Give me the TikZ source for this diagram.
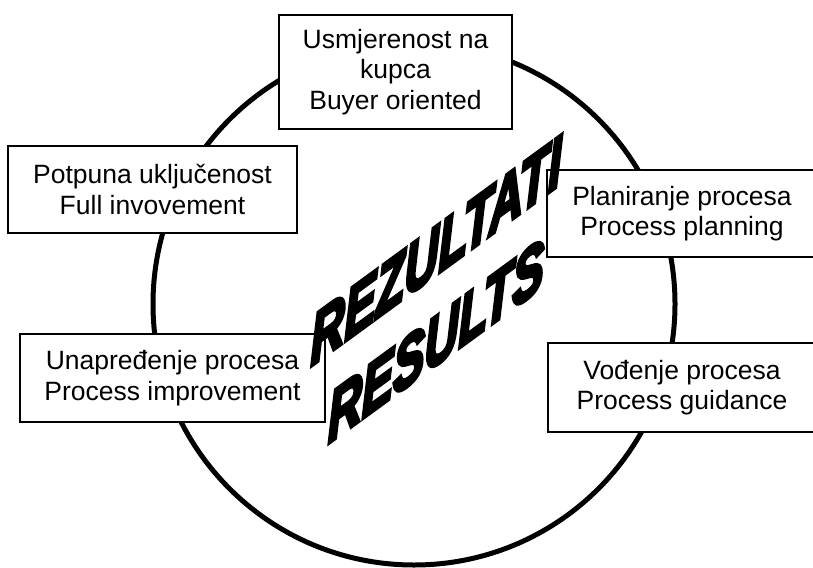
\documentclass[tikz,border=0pt]{standalone}
\usepackage{fontspec}
\setmainfont{Liberation Sans}
\newfontfamily\heavyfont[FakeBold=6]{Liberation Sans Bold Italic}
\begin{document}
\begin{tikzpicture}[x=1pt,y=-1pt,
  box/.style={draw,line width=1.5pt,fill=white,align=center,inner sep=0pt,
    font=\fontsize{26.5}{30.5}\selectfont},
  bigword/.style={align=center,inner sep=0pt,transform shape,
    font=\heavyfont\fontsize{47}{60}\selectfont}]
  \useasboundingbox (0,0) rectangle (813,567);

  % ring behind the boxes
  \draw[line width=5pt] (414,304) circle (261);

  \node[box,minimum width=233,minimum height=114] (kupac) at (395.5,72)
    {Usmjerenost na\\kupca\\Buyer oriented};
  \node[box,minimum width=289,minimum height=87] (ukljuc) at (152.5,189.5)
    {Potpuna uključenost\\Full invovement};
  \node[box,minimum width=270,minimum height=87] (plan) at (682,213.5)
    {Planiranje procesa\\Process planning};
  \node[box,minimum width=305,minimum height=88] (unapr) at (172.5,378)
    {Unapređenje procesa\\Process improvement};
  \node[box,minimum width=268,minimum height=89] (vodj) at (682,387.5)
    {Vođenje procesa\\Process guidance};

  % slanted title in the middle
  \node[bigword,yslant=0.73,yscale=1.5] (rez) at (436,296) {REZULTATI\\RESULTS};
\end{tikzpicture}
\end{document}
